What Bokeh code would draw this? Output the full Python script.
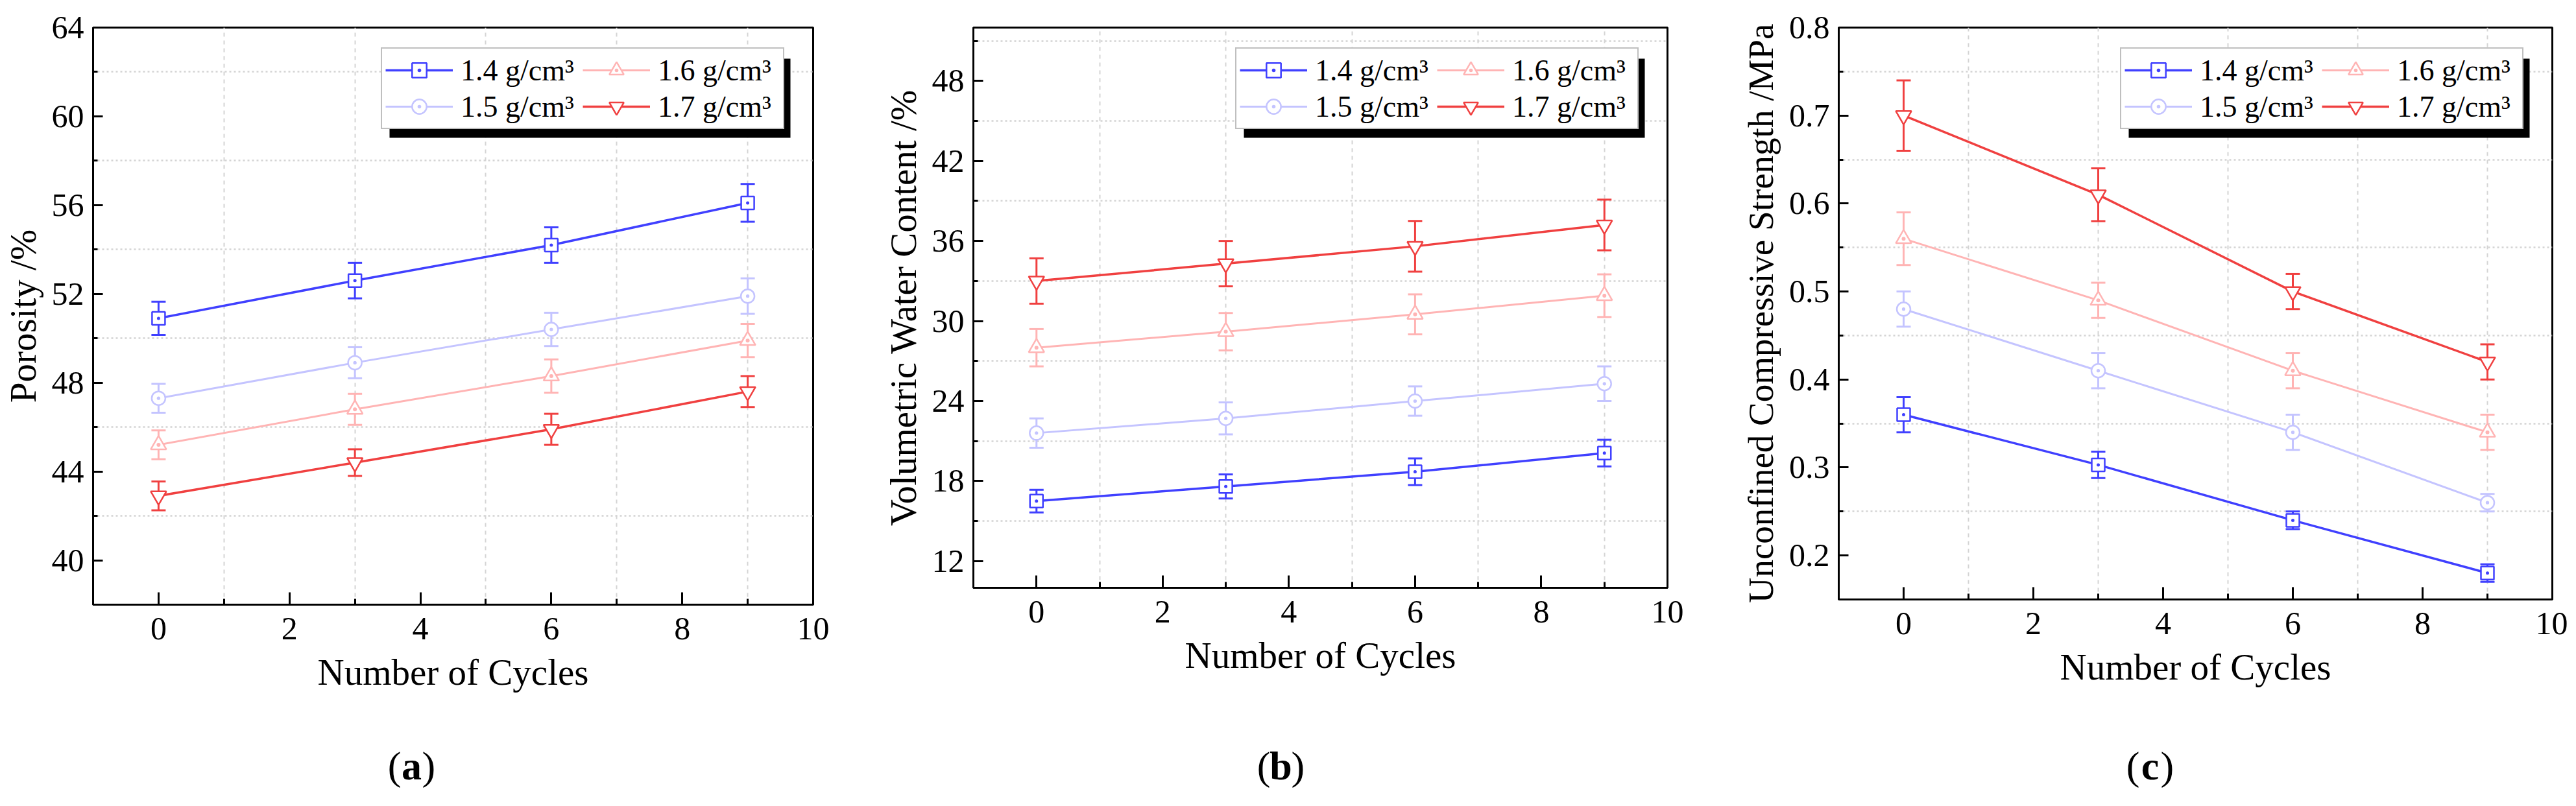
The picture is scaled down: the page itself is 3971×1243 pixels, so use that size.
from bokeh.plotting import figure
from bokeh.models import (ColumnDataSource, Range1d, FixedTicker, Whisker, TeeHead,
                          Legend, LegendItem, Label, BoxAnnotation)
from bokeh.layouts import row, column
from bokeh.embed import file_html
from bokeh.resources import INLINE

FONT = "Liberation Serif"

# ---------------- data ----------------
cycles = [0, 3, 6, 9]
density_labels = ["1.4 g/cm³", "1.5 g/cm³", "1.6 g/cm³", "1.7 g/cm³"]
captions = ["a", "b", "c"]

porosity_14 = [50.9, 52.6, 54.2, 56.1]
porosity_15 = [47.3, 48.9, 50.4, 51.9]
porosity_16 = [45.2, 46.8, 48.3, 49.9]
porosity_17 = [42.9, 44.4, 45.9, 47.6]
porosity_err_14 = [0.75, 0.8, 0.8, 0.85]
porosity_err_15 = [0.65, 0.7, 0.75, 0.8]
porosity_err_16 = [0.65, 0.7, 0.75, 0.75]
porosity_err_17 = [0.65, 0.6, 0.7, 0.7]

water_14 = [16.5, 17.6, 18.7, 20.1]
water_15 = [21.6, 22.7, 24.0, 25.3]
water_16 = [28.0, 29.2, 30.5, 31.9]
water_17 = [33.0, 34.3, 35.6, 37.2]
water_err_14 = [0.85, 0.9, 1.0, 1.0]
water_err_15 = [1.1, 1.2, 1.1, 1.3]
water_err_16 = [1.4, 1.4, 1.5, 1.6]
water_err_17 = [1.7, 1.7, 1.9, 1.9]

ucs_14 = [0.36, 0.303, 0.24, 0.18]
ucs_15 = [0.48, 0.41, 0.34, 0.26]
ucs_16 = [0.56, 0.49, 0.41, 0.34]
ucs_17 = [0.70, 0.61, 0.50, 0.42]
ucs_err_14 = [0.02, 0.015, 0.01, 0.01]
ucs_err_15 = [0.02, 0.02, 0.02, 0.01]
ucs_err_16 = [0.03, 0.02, 0.02, 0.02]
ucs_err_17 = [0.04, 0.03, 0.02, 0.02]

x_ticks = [0, 2, 4, 6, 8, 10]
x_minor = [1, 3, 5, 7, 9]
porosity_ticks = [40, 44, 48, 52, 56, 60, 64]
porosity_minor = [42, 46, 50, 54, 58, 62]
water_ticks = [12, 18, 24, 30, 36, 42, 48]
water_minor = [15, 21, 27, 33, 39, 45, 51]
ucs_ticks = [0.2, 0.3, 0.4, 0.5, 0.6, 0.7, 0.8]
ucs_minor = [0.25, 0.35, 0.45, 0.55, 0.65, 0.75]

# ---------------- styles ----------------
colors = ["#4040ff", "#c4c4ff", "#ffb4b4", "#f04040"]
markers = ["square_dot", "circle_dot", "triangle_dot", "inverted_triangle"]
marker_sizes = [20, 21, 24, 24]
line_widths = [3.5, 3.0, 3.0, 3.5]

H = 1130        # height of the chart row
CAP_H = 97      # height of the caption strip below


def panel(ylabel, series, errs, yr, yticks, yminor, width, bl, br, bt, bb,
          ylabel_size="57px"):
    fw = width - bl - br
    fh = H - bt - bb
    p = figure(width=None, height=None, frame_width=fw, frame_height=fh,
               x_range=Range1d(-1, 10), y_range=Range1d(*yr),
               min_border_left=bl, min_border_right=br, min_border_top=bt, min_border_bottom=bb,
               output_backend="svg", toolbar_location=None)
    p.background_fill_color = "white"
    p.border_fill_color = "white"
    p.outline_line_color = "black"
    p.outline_line_width = 3

    p.xaxis.ticker = FixedTicker(ticks=x_ticks, minor_ticks=x_minor)
    p.yaxis.ticker = FixedTicker(ticks=yticks, minor_ticks=yminor)
    for ax in (p.xaxis[0], p.yaxis[0]):
        ax.axis_line_width = 3
        ax.axis_line_color = "black"
        ax.major_tick_out = 0
        ax.minor_tick_out = 0
        ax.major_tick_line_width = 3
        ax.minor_tick_line_width = 3
        ax.major_tick_line_color = "black"
        ax.minor_tick_line_color = "black"
        ax.major_label_text_font = FONT
        ax.major_label_text_font_size = "50px"
        ax.major_label_text_color = "black"
        ax.axis_label_text_font = FONT
        ax.axis_label_text_font_style = "normal"
        ax.axis_label_text_color = "black"
    p.xaxis.major_tick_in = 19
    p.xaxis.minor_tick_in = 9
    p.yaxis.major_tick_in = 15
    p.yaxis.minor_tick_in = 7
    p.xaxis.axis_label = "Number of Cycles"
    p.xaxis.axis_label_text_font_size = "57px"
    p.xaxis.major_label_standoff = 20
    p.xaxis.axis_label_standoff = 16
    p.yaxis.axis_label = ylabel
    p.yaxis.axis_label_text_font_size = ylabel_size
    p.yaxis.major_label_standoff = 14
    p.yaxis.axis_label_standoff = 10

    p.xgrid.grid_line_color = None
    p.ygrid.grid_line_color = None
    p.xgrid.minor_grid_line_color = "#d4d4d4"
    p.xgrid.minor_grid_line_dash = "6 6"
    p.xgrid.minor_grid_line_width = 2
    p.ygrid.minor_grid_line_color = "#d4d4d4"
    p.ygrid.minor_grid_line_dash = "3 4"
    p.ygrid.minor_grid_line_width = 2.5

    items = []
    for i in range(4):
        vals = series[i]
        err = errs[i]
        src = ColumnDataSource(dict(x=cycles, y=vals,
                                    lo=[v - e for v, e in zip(vals, err)],
                                    hi=[v + e for v, e in zip(vals, err)]))
        w = Whisker(base="x", lower="lo", upper="hi", source=src, level="underlay",
                    line_color=colors[i], line_width=3,
                    lower_head=TeeHead(size=22, line_color=colors[i], line_width=3),
                    upper_head=TeeHead(size=22, line_color=colors[i], line_width=3))
        p.add_layout(w)
        ln = p.line("x", "y", source=src, line_color=colors[i], line_width=line_widths[i])
        sc = p.scatter("x", "y", source=src, marker=markers[i], size=marker_sizes[i],
                       line_color=colors[i], line_width=2.5, fill_color="white")
        items.append(LegendItem(label=density_labels[i], renderers=[ln, sc]))

    # legend geometry (frame pixels, y up)
    pad, gw, gh, st, lw, lh = 5, 104, 56, 12, 188, 56
    leg_w = 2 * pad + 2 * (gw + st + lw)
    leg_h = 2 * pad + 2 * lh
    lx = fw - 48 - leg_w
    ly = fh - 35 - leg_h

    x0, x1 = p.x_range.start, p.x_range.end
    y0, y1 = p.y_range.start, p.y_range.end

    def dx(px):
        return x0 + px * (x1 - x0) / fw

    def dy(py):
        return y0 + py * (y1 - y0) / fh

    # drop shadow behind the legend
    shadow = BoxAnnotation(left=dx(lx + 13), right=dx(lx + leg_w + 13),
                           bottom=dy(ly - 13), top=dy(ly + leg_h - 13),
                           fill_color="black", fill_alpha=1.0, line_color=None)
    p.add_layout(shadow)

    legend = Legend(items=items, ncols=2, location=(lx, ly), glyph_width=gw, glyph_height=gh,
                    label_standoff=st, label_width=lw, label_height=lh, spacing=0, padding=pad,
                    margin=0, label_text_font=FONT, label_text_font_size="46px",
                    label_text_color="black", border_line_color="#808080", border_line_width=2,
                    background_fill_color="white", background_fill_alpha=1.0)
    p.add_layout(legend, "center")
    return p


pa = panel("Porosity /%",
           [porosity_14, porosity_15, porosity_16, porosity_17],
           [porosity_err_14, porosity_err_15, porosity_err_16, porosity_err_17],
           (38, 64), porosity_ticks, porosity_minor,
           1302, 140, 52, 40, 200)
pb = panel("Volumetric Water Content /%",
           [water_14, water_15, water_16, water_17],
           [water_err_14, water_err_15, water_err_16, water_err_17],
           (10, 52), water_ticks, water_minor,
           1340, 195, 75, 35, 231)
pc = panel("Unconfined Compressive Strength /MPa",
           [ucs_14, ucs_15, ucs_16, ucs_17],
           [ucs_err_14, ucs_err_15, ucs_err_16, ucs_err_17],
           (0.15, 0.8), ucs_ticks, ucs_minor,
           1313, 189, 24, 42, 206, ylabel_size="55px")

# ---------------- caption strip: (a) (b) (c) ----------------
TOTAL_W = 1302 + 1340 + 1313
cap = figure(width=None, height=None, frame_width=TOTAL_W, frame_height=CAP_H,
             x_range=Range1d(0, TOTAL_W), y_range=Range1d(0, CAP_H),
             x_axis_location=None, y_axis_location=None, min_border=0,
             output_backend="svg", toolbar_location=None)
cap.outline_line_color = None
cap.xgrid.visible = False
cap.ygrid.visible = False
cap.background_fill_color = "white"
cap.border_fill_color = "white"
caption_centers = [634, 1974, 3314]
for letter, cxp in zip(captions, caption_centers):
    common = dict(y=47, x_units="screen", y_units="screen", text_font=FONT,
                  text_font_size="62px", text_baseline="middle", text_color="black")
    cap.add_layout(Label(x=cxp - 16, text="(", text_align="right", **common))
    cap.add_layout(Label(x=cxp, text=letter, text_align="center", text_font_style="bold", **common))
    cap.add_layout(Label(x=cxp + 16, text=")", text_align="left", **common))

layout = column(row(pa, pb, pc), cap)
open("out.html", "w").write(file_html(layout, INLINE))
